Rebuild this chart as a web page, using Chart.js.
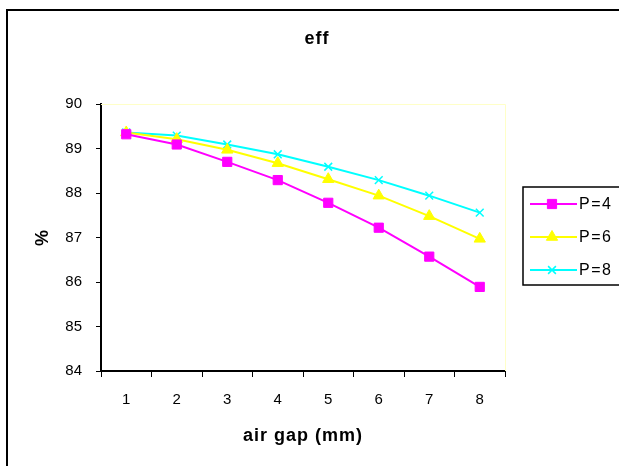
<!DOCTYPE html>
<html lang="en">
<head>
    <meta charset="UTF-8">
    <title>eff</title>
    <script src="https://cdn.jsdelivr.net/npm/chart.js"></script>
    <style>
        body {
            margin: 0;
            background: #fff;
        }
        #effChart {
            display: block;
        }
    </style>
</head>
<body>
    <canvas id="effChart" width="619" height="466"></canvas>

    <script>
        // values
        const airGap = ['1', '2', '3', '4', '5', '6', '7', '8'];
        const effP4 = [89.32, 89.09, 88.70, 88.29, 87.78, 87.22, 86.57, 85.89];
        const effP6 = [89.36, 89.21, 88.97, 88.67, 88.31, 87.94, 87.48, 86.97];
        const effP8 = [89.36, 89.29, 89.09, 88.87, 88.59, 88.29, 87.94, 87.56];
        const seriesNames = ['P=4', 'P=6', 'P=8'];
        const chartTitle = 'eff';
        const xTitle = 'air gap (mm)';
        const yTitle = '%';

        const FONT = "'Liberation Sans', Arial, sans-serif";
        Chart.defaults.font.family = FONT;
        Chart.defaults.color = '#000';

        // excel style frame, titles, plot border and legend box
        const excelFrame = {
            id: 'excelFrame',
            beforeDraw(chart) {
                const ctx = chart.ctx;
                ctx.save();
                ctx.fillStyle = '#fff';
                ctx.fillRect(0, 0, chart.width, chart.height);
                ctx.strokeStyle = '#000';
                ctx.lineWidth = 2;
                ctx.strokeRect(7, 10, 700, 600);
                ctx.restore();
            },
            beforeDatasetsDraw(chart) {
                const a = chart.chartArea;
                const ctx = chart.ctx;
                ctx.save();
                ctx.strokeStyle = '#ffffc8';
                ctx.lineWidth = 1;
                ctx.beginPath();
                ctx.moveTo(a.left, a.top + 0.5);
                ctx.lineTo(a.right + 0.5, a.top + 0.5);
                ctx.lineTo(a.right + 0.5, a.bottom);
                ctx.stroke();
                ctx.restore();
            },
            afterDraw(chart) {
                const ctx = chart.ctx;
                const a = chart.chartArea;
                ctx.save();
                ctx.fillStyle = '#000';
                ctx.textAlign = 'center';
                ctx.textBaseline = 'middle';
                ctx.letterSpacing = '1px';
                ctx.font = 'bold 18px ' + FONT;
                ctx.fillText(chartTitle, 317, 39);
                ctx.fillText(xTitle, (a.left + a.right) / 2, 436);
                ctx.save();
                ctx.translate(43, (a.top + a.bottom) / 2);
                ctx.rotate(-Math.PI / 2);
                ctx.fillText(yTitle, 0, 0);
                ctx.restore();

                // legend
                ctx.strokeStyle = '#000';
                ctx.lineWidth = 1.5;
                ctx.strokeRect(523, 187, 120, 98);
                const rows = [204, 237, 270];
                ctx.textAlign = 'left';
                ctx.letterSpacing = '1.5px';
                chart.data.datasets.forEach((ds, i) => {
                    const y = rows[i];
                    ctx.strokeStyle = ds.borderColor;
                    ctx.lineWidth = 2;
                    ctx.beginPath();
                    ctx.moveTo(530, y);
                    ctx.lineTo(577, y);
                    ctx.stroke();
                    ctx.fillStyle = ds.pointBackgroundColor;
                    ctx.strokeStyle = ds.pointBorderColor;
                    ctx.lineWidth = ds.pointBorderWidth;
                    Chart.helpers.drawPoint(ctx, {
                        pointStyle: ds.pointStyle,
                        radius: ds.pointRadius,
                        borderWidth: ds.pointBorderWidth,
                        rotation: 0
                    }, 552, y);
                    ctx.fillStyle = '#000';
                    ctx.font = '16px ' + FONT;
                    ctx.fillText(ds.label, 579, y + 1);
                });
                ctx.restore();
            }
        };

        function makeSet(label, values, color, style, radius, pbw) {
            return {
                label: label,
                data: values,
                borderColor: color,
                backgroundColor: color,
                borderWidth: 2,
                pointStyle: style,
                pointRadius: radius,
                pointHoverRadius: radius,
                pointBackgroundColor: color,
                pointBorderColor: color,
                pointBorderWidth: pbw,
                tension: 0
            };
        }

        const ctx = document.getElementById('effChart').getContext('2d');
        new Chart(ctx, {
            type: 'line',
            data: {
                labels: airGap,
                datasets: [
                    makeSet(seriesNames[0], effP4, '#ff00ff', 'rect', 6.5, 1),
                    makeSet(seriesNames[1], effP6, '#ffff00', 'triangle', 6.5, 1),
                    makeSet(seriesNames[2], effP8, '#00ffff', 'crossRot', 5.5, 1.5)
                ]
            },
            options: {
                responsive: false,
                animation: false,
                devicePixelRatio: 1,
                layout: {
                    padding: { top: 104, right: 114, bottom: 0, left: 0 }
                },
                plugins: {
                    legend: { display: false },
                    tooltip: { enabled: false },
                    title: { display: false }
                },
                scales: {
                    x: {
                        offset: true,
                        afterFit(scale) { scale.height = 95; },
                        grid: {
                            offset: true,
                            drawOnChartArea: false,
                            drawTicks: true,
                            tickLength: 6,
                            color: '#000'
                        },
                        border: { color: '#000', width: 2 },
                        ticks: {
                            font: { size: 15 },
                            padding: 14,
                            maxRotation: 0
                        }
                    },
                    y: {
                        min: 84,
                        max: 90,
                        afterFit(scale) { scale.width = 101; },
                        grid: {
                            drawOnChartArea: false,
                            drawTicks: true,
                            tickLength: 5,
                            color: '#000'
                        },
                        border: { color: '#000', width: 2 },
                        ticks: {
                            stepSize: 1,
                            font: { size: 15 },
                            padding: 14
                        }
                    }
                }
            },
            plugins: [excelFrame]
        });
    </script>
</body>
</html>
